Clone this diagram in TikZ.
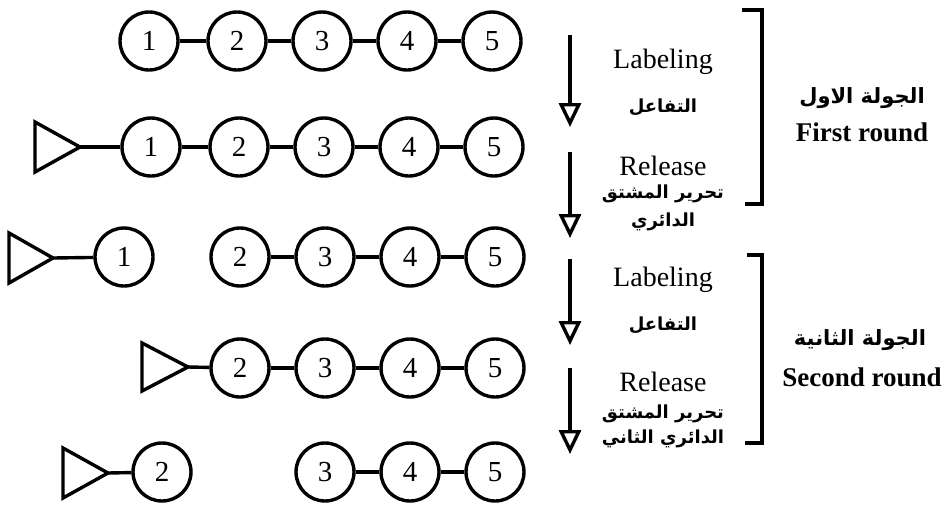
\documentclass[tikz,border=0pt]{standalone}
\usepackage{fontspec}
\setmainfont{Liberation Serif}
\newfontfamily\arabicfont[Script=Arabic]{DejaVu Sans}
\TeXXeTstate=1
\usetikzlibrary{arrows.meta}

\begin{document}
\begin{tikzpicture}
   [x=0.5pt, y=-0.5pt, line width=1.7pt, node distance=42.5pt,
    res node/.style={circle,draw,minimum size=29pt,inner sep=0pt,font=\fontsize{14.5}{14.5}\selectfont},
    move arrow/.style={-{Triangle[open,length=12pt,width=11pt]}},
    en label/.style={font=\fontsize{14}{16}\selectfont},
    ar label/.style={font=\arabicfont\bfseries\fontsize{9}{11}\selectfont},
    round label/.style={font=\bfseries\fontsize{13.5}{16}\selectfont},
    ar round/.style={font=\arabicfont\bfseries\fontsize{10.5}{12}\selectfont}]
   \useasboundingbox (0,0) rectangle (950,505);

   % row 1
   \node[res node] (a2) at (237,41) {2};
   \node[res node, left of=a2, xshift=-1.5pt] (a1) {1};
   \node[res node, right of=a2] (a3) {3};
   \node[res node, right of=a3] (a4) {4};
   \node[res node, right of=a4] (a5) {5};
   \draw (a1) -- (a2);
   \draw (a2) -- (a3);
   \draw (a3) -- (a4);
   \draw (a4) -- (a5);

   % row 2
   \coordinate (tb) at (80,147);
   \draw (tb) -- ++(-45,-25) -- ++(0,50) -- cycle;
   \node[res node] (b2) at (239,147) {2};
   \node[res node, left of=b2, xshift=-1.5pt] (b1) {1};
   \node[res node, right of=b2] (b3) {3};
   \node[res node, right of=b3] (b4) {4};
   \node[res node, right of=b4] (b5) {5};
   \draw (tb) -- (b1);
   \draw (b1) -- (b2);
   \draw (b2) -- (b3);
   \draw (b3) -- (b4);
   \draw (b4) -- (b5);

   % row 3
   \coordinate (tc) at (53,258);
   \draw (tc) -- ++(-44,-25) -- ++(0,50) -- cycle;
   \node[res node] (c1) at (124,257) {1};
   \node[res node] (c2) at (240,257) {2};
   \node[res node, right of=c2] (c3) {3};
   \node[res node, right of=c3] (c4) {4};
   \node[res node, right of=c4] (c5) {5};
   \draw (tc) -- (c1);
   \draw (c2) -- (c3);
   \draw (c3) -- (c4);
   \draw (c4) -- (c5);

   % row 4
   \coordinate (td) at (188,367);
   \draw (td) -- ++(-46,-24) -- ++(0,48) -- cycle;
   \node[res node] (d2) at (240,368) {2};
   \node[res node, right of=d2] (d3) {3};
   \node[res node, right of=d3] (d4) {4};
   \node[res node, right of=d4] (d5) {5};
   \draw (td) -- (d2);
   \draw (d2) -- (d3);
   \draw (d3) -- (d4);
   \draw (d4) -- (d5);

   % row 5
   \coordinate (te) at (108,473);
   \draw (te) -- ++(-45,-25) -- ++(0,50) -- cycle;
   \node[res node] (e2) at (162,472) {2};
   \node[res node] (e3) at (325,472) {3};
   \node[res node, right of=e3] (e4) {4};
   \node[res node, right of=e4] (e5) {5};
   \draw (te) -- (e2);
   \draw (e3) -- (e4);
   \draw (e4) -- (e5);

   % steps
   \coordinate (p1) at (570,35);  \coordinate (q1) at (570,127);
   \coordinate (p2) at (570,152); \coordinate (q2) at (570,238);
   \coordinate (p3) at (570,259); \coordinate (q3) at (570,345);
   \coordinate (p4) at (570,368); \coordinate (q4) at (570,454);
   \draw[move arrow] (p1) -- (q1);
   \draw[move arrow] (p2) -- (q2);
   \draw[move arrow] (p3) -- (q3);
   \draw[move arrow] (p4) -- (q4);

   \node[en label] (lab1) at (663,62) {Labeling};
   \node[ar label] (int1) at (663,107) {\beginR التفاعل\endR};
   \node[en label] (rel1) at (663,166) {Release};
   \node[ar label] (fre1) at (663,194) {\beginR تحرير المشتق\endR};
   \node[ar label] (cyc1) at (663,222) {\beginR الدائري\endR};

   \node[en label] (lab2) at (663,280) {Labeling};
   \node[ar label] (int2) at (663,325) {\beginR التفاعل\endR};
   \node[en label] (rel2) at (663,382) {Release};
   \node[ar label] (fre2) at (663,414) {\beginR تحرير المشتق\endR};
   \node[ar label] (cyc2) at (663,439) {\beginR الدائري الثاني\endR};

   % rounds
   \draw (742,10) -- (762,10) -- (762,204) -- (745,204);
   \draw (747,255) -- (762,255) -- (762,443) -- (745,443);
   \node[ar round] (rnd1a) at (862,98) {\beginR الجولة الاول\endR};
   \node[round label] (rnd1) at (862,132) {First round};
   \node[ar round] (rnd2a) at (860,340) {\beginR الجولة الثانية\endR};
   \node[round label] (rnd2) at (862,377) {Second round};
\end{tikzpicture}
\end{document}
